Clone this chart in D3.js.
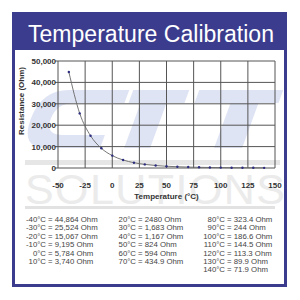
<!DOCTYPE html>
<html>
<head>
<meta charset="utf-8">
<script src="https://cdn.jsdelivr.net/npm/d3@7"></script>
<style>
  body { margin: 0; background: #fff; }
  text { font-family: "Liberation Sans", Arial, sans-serif; }
</style>
</head>
<body>
<script>
// calibration points (degrees C -> Ohm)
var temps = [-40, -30, -20, -10, 0, 10, 20, 30, 40, 50, 60, 70, 80, 90, 100, 110, 120, 130, 140];
var ohms = [44864, 25524, 15067, 9195, 5784, 3740, 2480, 1683, 1167, 824, 594, 434.9, 323.4, 244, 186.6, 144.5, 113.3, 89.9, 71.9];
var ohmLabels = ["44,864", "25,524", "15,067", "9,195", "5,784", "3,740", "2480", "1,683", "1,167", "824", "594", "434.9",
                 "323.4", "244", "186.6", "144.5", "113.3", "89.9", "71.9"];
var xTicks = [-50, -25, 0, 25, 50, 75, 100, 125, 150];
var yTicks = [0, 10000, 20000, 30000, 40000, 50000];

var svg = d3.select("body").append("svg")
	.attr("width", 300)
	.attr("height", 300);

// frame + title band
svg.append("rect")
	.attr("x", 13.5).attr("y", 13.5)
	.attr("width", 272).attr("height", 272)
	.attr("fill", "#fff")
	.attr("stroke", "#3b3c8e")
	.attr("stroke-width", 3);
svg.append("rect")
	.attr("x", 12).attr("y", 12)
	.attr("width", 275).attr("height", 38)
	.attr("fill", "#3b3c8e");
svg.append("text")
	.attr("x", 151).attr("y", 42)
	.attr("text-anchor", "middle")
	.attr("fill", "#fff")
	.attr("font-size", 23)
	.attr("textLength", 246)
	.attr("lengthAdjust", "spacingAndGlyphs")
	.text("Temperature Calibration");

// watermark: slanted C-T-I logo shapes + SOLUTIONS
var wm = svg.append("g");
var logo = wm.append("g")
	.attr("transform", "translate(54,0) skewX(-20)")
	.attr("fill", "#dfe4f4");
// C (outer minus inner, open to the right)
logo.append("path")
	.attr("fill-rule", "evenodd")
	.attr("d", "M48,90 H108 V103 H58 Q40,103 40,119 Q40,135 58,135 H100 V148 H46 Q20,148 20,119 Q20,90 48,90 Z");
// T
logo.append("path")
	.attr("d", "M112,90 H168 V103 H150 V148 H124 V103 H112 Z");
// I
logo.append("path")
	.attr("d", "M178,90 H262 V103 H242 V148 H214 V103 H178 Z");
wm.append("rect")
	.attr("x", 25).attr("y", 160)
	.attr("width", 255).attr("height", 5)
	.attr("fill", "#e6e6e6");
wm.append("text")
	.attr("x", 155).attr("y", 204)
	.attr("text-anchor", "middle")
	.attr("font-size", 43)
	.attr("textLength", 260)
	.attr("lengthAdjust", "spacing")
	.attr("fill", "#ebebeb")
	.text("SOLUTIONS");
wm.append("rect")
	.attr("x", 25).attr("y", 206)
	.attr("width", 250).attr("height", 3)
	.attr("fill", "#e2e2e2");

// scales
var x = d3.scaleLinear().domain([-50, 150]).range([58, 275]);
var y = d3.scaleLinear().domain([0, 50000]).range([168, 61]);

// grid
svg.append("g").selectAll("line")
	.data(xTicks)
	.join("line")
	.attr("x1", d => x(d)).attr("x2", d => x(d))
	.attr("y1", y(0)).attr("y2", y(50000))
	.attr("stroke", "#555").attr("stroke-width", 1);
svg.append("g").selectAll("line")
	.data(yTicks)
	.join("line")
	.attr("x1", x(-50) - 3).attr("x2", x(150))
	.attr("y1", d => y(d)).attr("y2", d => y(d))
	.attr("stroke", "#555").attr("stroke-width", 1);

// axes labels
svg.append("g").selectAll("text")
	.data(yTicks)
	.join("text")
	.attr("x", x(-50) - 2)
	.attr("y", d => y(d) + 3)
	.attr("text-anchor", "end")
	.attr("font-size", 8)
	.attr("font-weight", "bold")
	.attr("fill", "#333")
	.text(d => d3.format(",")(d));
svg.append("g").selectAll("text")
	.data(xTicks)
	.join("text")
	.attr("x", d => x(d))
	.attr("y", 188)
	.attr("text-anchor", "middle")
	.attr("font-size", 8)
	.attr("font-weight", "bold")
	.attr("fill", "#333")
	.text(d => d);
svg.append("text")
	.attr("x", (x(-50) + x(150)) / 2).attr("y", 199)
	.attr("text-anchor", "middle")
	.attr("font-size", 8)
	.attr("font-weight", "bold")
	.attr("fill", "#333")
	.text("Temperature (°C)");
svg.append("text")
	.attr("transform", "translate(24,101) rotate(-90)")
	.attr("text-anchor", "middle")
	.attr("font-size", 8)
	.attr("font-weight", "bold")
	.attr("fill", "#333")
	.text("Resistance (Ohm)");

// curve + points
var pts = temps.map((t, i) => [t, ohms[i]]);
svg.append("path")
	.datum(pts)
	.attr("fill", "none")
	.attr("stroke", "#666")
	.attr("stroke-width", 0.9)
	.attr("d", d3.line().x(d => x(d[0])).y(d => y(d[1])).curve(d3.curveMonotoneX));
svg.append("g").selectAll("circle")
	.data(pts)
	.join("circle")
	.attr("cx", d => x(d[0]))
	.attr("cy", d => y(d[1]))
	.attr("r", 1.2)
	.attr("fill", "#2d2d80");

// value table, 3 columns of 6/6/7 rows
var colEq = [47, 137, 226];
var rows = svg.append("g").selectAll("g")
	.data(temps)
	.join("g")
	.attr("transform", (d, i) => {
		var c = i < 6 ? 0 : (i < 12 ? 1 : 2);
		var r = i < 6 ? i : (i < 12 ? i - 6 : i - 12);
		return "translate(" + colEq[c] + "," + (222 + r * 8.4) + ")";
	});
rows.append("text")
	.attr("x", -1)
	.attr("text-anchor", "end")
	.attr("font-size", 7.8)
	.attr("fill", "#444")
	.text(d => d + "°C");
rows.append("text")
	.attr("x", 1)
	.attr("font-size", 7.8)
	.attr("fill", "#444")
	.text((d, i) => "= " + ohmLabels[i] + " Ohm");
</script>
</body>
</html>
